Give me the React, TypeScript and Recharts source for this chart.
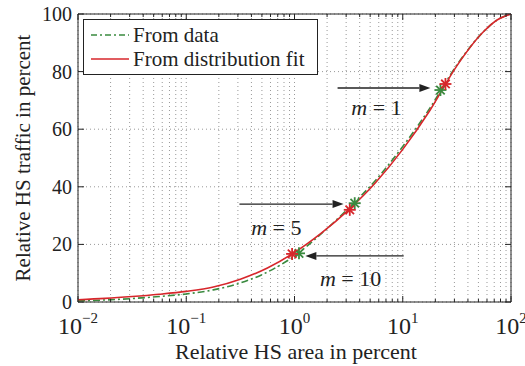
import React from "react";
import {
  ComposedChart,
  Line,
  Scatter,
  XAxis,
  YAxis,
  CartesianGrid,
  ReferenceArea,
  ReferenceLine,
  ReferenceDot,
  Legend,
} from "recharts";

// relative HS area (x, log, quarter decades) and relative HS traffic (y), in percent
const areaPct = [0.01, 0.0178, 0.0316, 0.0562, 0.1, 0.178, 0.316, 0.562, 1, 1.78, 3.16, 5.62, 10, 17.8, 31.6, 56.2, 75, 100];
const fitTraffic = [0.8, 1.25, 1.9, 2.7, 3.7, 5.2, 7.9, 11.8, 17.2, 24, 32, 41.5, 53, 66.5, 82, 94, 98, 100];
const dataTraffic = [0.4, 0.7, 1.2, 1.9, 2.8, 4.2, 6.6, 10.4, 16.0, 23.8, 32.6, 42.3, 54, 67.3, 82.3, 94, 98, 100];

// star markers for m = 10, 5, 1
const fitStarX = [0.95, 3.24, 24.8];
const fitStarY = [16.7, 32, 75.7];
const dataStarX = [1.1, 3.6, 22.3];
const dataStarY = [16.9, 34.3, 73.6];

const xMajor = [0.01, 0.1, 1, 10, 100];
const xExp = ["\u22122", "\u22121", "0", "1", "2"];
const yTicks = [0, 20, 40, 60, 80, 100];

const annotations = [
  { label: "1", from: [2.5, 74.3], to: [18, 74.3], text: [5.72, 67.7] },
  { label: "5", from: [0.31, 34], to: [2.84, 34], text: [0.68, 26] },
  { label: "10", from: [10.2, 16], to: [1.26, 16], text: [3.3, 8.3] },
];

const RED = "#d7262b";
const GREEN = "#3a8a3f";
const FONT =
  "'Liberation Serif', 'Times New Roman', Times, 'Nimbus Roman', 'Nimbus Roman No9 L', FreeSerif, 'Noto Serif', 'DejaVu Serif', Tinos, serif";

const PLOT_LEFT = 78;
const PLOT_RIGHT = 511;
const PLOT_TOP = 14;
const PLOT_BOTTOM = 302;

const rows = areaPct.map((x, i) => ({ x, fit: fitTraffic[i], data: dataTraffic[i] }));
const fitStars = fitStarX.map((x, i) => ({ x, y: fitStarY[i] }));
const dataStars = dataStarX.map((x, i) => ({ x, y: dataStarY[i] }));

const xTicks: number[] = [];
xMajor.forEach((d, i) => {
  xTicks.push(d);
  if (i < xMajor.length - 1) for (let k = 2; k <= 9; k++) xTicks.push(+(d * k).toPrecision(3));
});

const XTick = (props: any) => {
  const { x, payload } = props;
  const idx = xMajor.indexOf(payload.value);
  const len = idx >= 0 ? 6 : 3;
  return (
    <g>
      <line x1={x} x2={x} y1={PLOT_BOTTOM} y2={PLOT_BOTTOM - len} stroke="#222" />
      <line x1={x} x2={x} y1={PLOT_TOP} y2={PLOT_TOP + len} stroke="#222" />
      {idx >= 0 && (
        <text x={x} y={334} textAnchor="middle" fontFamily={FONT} fontSize={24} fill="#222">
          10
          <tspan dy={-11} fontSize={15}>
            {xExp[idx]}
          </tspan>
        </text>
      )}
    </g>
  );
};

const YTick = (props: any) => {
  const { y, payload } = props;
  return (
    <g>
      <line x1={PLOT_LEFT} x2={PLOT_LEFT + 6} y1={y} y2={y} stroke="#222" />
      <line x1={PLOT_RIGHT} x2={PLOT_RIGHT - 6} y1={y} y2={y} stroke="#222" />
      <text x={72} y={y + 7} textAnchor="end" fontFamily={FONT} fontSize={20} fill="#222">
        {payload.value}
      </text>
    </g>
  );
};

const starShape = (color: string) => (p: any) => {
  const { cx, cy } = p;
  const r = 6;
  const d = r * 0.7071;
  return (
    <g stroke={color} strokeWidth={1.8}>
      <line x1={cx - r} x2={cx + r} y1={cy} y2={cy} />
      <line x1={cx} x2={cx} y1={cy - r} y2={cy + r} />
      <line x1={cx - d} x2={cx + d} y1={cy - d} y2={cy + d} />
      <line x1={cx - d} x2={cx + d} y1={cy + d} y2={cy - d} />
    </g>
  );
};

const Arrow = (p: any) => {
  const { x1, y1, x2, y2 } = p;
  const dir = x2 > x1 ? 1 : -1;
  const head = 11;
  return (
    <g>
      <line x1={x1} y1={y1} x2={x2 - dir * head} y2={y2} stroke="#222" strokeWidth={1.3} />
      <polygon
        points={`${x2},${y2} ${x2 - dir * head},${y2 - 4} ${x2 - dir * head},${y2 + 4}`}
        fill="#222"
      />
    </g>
  );
};

const mLabel = (value: string) => (p: any) => (
  <text x={p.cx} y={p.cy + 8} textAnchor="middle" fontFamily={FONT} fontSize={22} fill="#222">
    <tspan fontStyle="italic">m</tspan>
    {" = " + value}
  </text>
);

const renderLegend = () => (
  <div
    style={{
      width: 235,
      height: 56,
      boxSizing: "border-box",
      border: "1px solid #222",
      background: "#fff",
      fontFamily: FONT,
      fontSize: 21,
      color: "#222",
      paddingTop: 3,
    }}
  >
    {[
      { name: "From data", color: GREEN, dash: "6 3 2 3" },
      { name: "From distribution fit", color: RED, dash: undefined },
    ].map((it) => (
      <div key={it.name} style={{ display: "flex", alignItems: "center", height: 24, lineHeight: "24px" }}>
        <svg width={49} height={10}>
          <line x1={7} x2={45} y1={5} y2={5} stroke={it.color} strokeWidth={1.6} strokeDasharray={it.dash} />
        </svg>
        <span>{it.name}</span>
      </div>
    ))}
  </div>
);

export default function App() {
  return (
    <div style={{ position: "absolute", left: 0, top: 0, width: 525, height: 366, background: "#fff", fontFamily: FONT }}>
      <ComposedChart width={525} height={366} data={rows} margin={{ top: 14, right: 14, bottom: 0, left: 0 }}>
        <CartesianGrid stroke="#999" strokeDasharray="1 3" />
        <XAxis
          dataKey="x"
          type="number"
          scale="log"
          domain={[0.01, 100]}
          ticks={xTicks}
          interval={0}
          allowDataOverflow
          height={64}
          tickLine={false}
          axisLine={false}
          tick={<XTick />}
          label={{
            content: () => (
              <text x={296} y={359} textAnchor="middle" fontFamily={FONT} fontSize={22} fill="#222">
                Relative HS area in percent
              </text>
            ),
          }}
        />
        <YAxis
          dataKey="y"
          type="number"
          domain={[0, 100]}
          ticks={yTicks}
          interval={0}
          allowDataOverflow
          width={78}
          tickLine={false}
          axisLine={false}
          tick={<YTick />}
          label={{
            content: () => (
              <text
                x={30}
                y={158}
                transform="rotate(-90 30 158)"
                textAnchor="middle"
                fontFamily={FONT}
                fontSize={21}
                fill="#222"
              >
                Relative HS traffic in percent
              </text>
            ),
          }}
        />
        <ReferenceArea x1={0.01} x2={100} y1={0} y2={100} fill="none" stroke="#222" strokeWidth={1} />
        <Line
          dataKey="data"
          type="monotone"
          stroke={GREEN}
          strokeWidth={1.6}
          strokeDasharray="7 3 2 3"
          dot={false}
          isAnimationActive={false}
        />
        <Line dataKey="fit" type="monotone" stroke={RED} strokeWidth={1.6} dot={false} isAnimationActive={false} />
        <Scatter data={dataStars} fill={GREEN} shape={starShape(GREEN)} isAnimationActive={false} />
        <Scatter data={fitStars} fill={RED} shape={starShape(RED)} isAnimationActive={false} />
        {annotations.map((a) => (
          <ReferenceLine
            key={"a" + a.label}
            segment={[
              { x: a.from[0], y: a.from[1] },
              { x: a.to[0], y: a.to[1] },
            ]}
            shape={<Arrow />}
            ifOverflow="visible"
          />
        ))}
        {annotations.map((a) => (
          <ReferenceDot
            key={"t" + a.label}
            x={a.text[0]}
            y={a.text[1]}
            r={0}
            shape={mLabel(a.label)}
            ifOverflow="visible"
          />
        ))}
        <Legend
          content={renderLegend}
          layout="horizontal"
          verticalAlign="middle"
          align="center"
          wrapperStyle={{ left: 83, top: 19, width: 235, height: 56 }}
        />
      </ComposedChart>
    </div>
  );
}
